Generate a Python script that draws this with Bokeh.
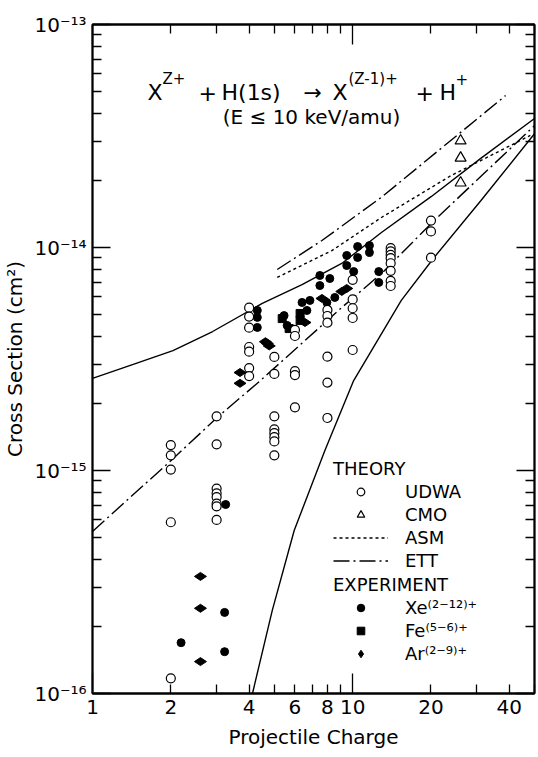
import math
from bokeh.plotting import figure
from bokeh.models import (LogAxis, FixedTicker, Legend, LegendItem, Label,
                          CustomJSTickFormatter, PrintfTickFormatter)
from bokeh.embed import file_html
from bokeh.resources import INLINE

FONT = "DejaVu Sans"

# ---------------- data ----------------
# Theory: UDWA (open circles)
udwa_z = [2, 2, 2, 2, 2,
          3, 3, 3, 3, 3, 3, 3, 3,
          4, 4, 4, 4, 4, 4, 4,
          5, 5, 5, 5, 5, 5, 5, 5,
          6, 6, 6, 6, 6,
          8, 8, 8, 8, 8, 8,
          10, 10, 10, 10, 10,
          14, 14, 14, 14, 14, 14, 14, 14,
          20, 20, 20]
udwa_sigma = [1.30e-15, 1.17e-15, 1.01e-15, 5.86e-16, 1.17e-16,
              1.75e-15, 1.31e-15, 8.3e-16, 7.9e-16, 7.6e-16, 7.1e-16, 6.9e-16, 6.0e-16,
              5.37e-15, 4.9e-15, 4.37e-15, 3.58e-15, 3.41e-15, 2.88e-15, 2.65e-15,
              3.23e-15, 2.71e-15, 1.75e-15, 1.53e-15, 1.47e-15, 1.41e-15, 1.35e-15, 1.17e-15,
              4.27e-15, 4.01e-15, 2.79e-15, 2.68e-15, 1.92e-15,
              5.25e-15, 4.93e-15, 4.6e-15, 3.24e-15, 2.48e-15, 1.72e-15,
              7.16e-15, 5.85e-15, 5.34e-15, 4.83e-15, 3.47e-15,
              9.93e-15, 9.6e-15, 9.27e-15, 8.96e-15, 8.5e-15, 7.86e-15, 7.08e-15, 6.72e-15,
              1.32e-14, 1.18e-14, 9.0e-15]

# Theory: CMO (open triangles)
cmo_z = [26, 26, 26]
cmo_sigma = [3.01e-14, 2.52e-14, 1.95e-14]

# Theory curves
asm_z = [5.13, 8.32, 12.90, 23.87, 48.2]
asm_sigma = [7.34e-15, 9.69e-15, 1.363e-14, 2.10e-14, 3.18e-14]

ett_upper_z = [5.13, 7.62, 12.90, 21.86, 38.7]
ett_upper_sigma = [7.97e-15, 1.075e-14, 1.68e-14, 2.78e-14, 4.80e-14]

ett_lower_z = [1.0, 2.04, 3.05, 4.42, 9.08, 12.90, 20.56, 50.0]
ett_lower_sigma = [5.33e-16, 1.13e-15, 1.75e-15, 2.53e-15, 5.38e-15, 7.64e-15, 1.32e-14, 3.52e-14]

solid_upper_z = [1.0, 1.434, 2.038, 2.896, 4.494, 6.388, 9.08, 12.90, 20.02, 31.08, 50.0]
solid_upper_sigma = [2.59e-15, 2.99e-15, 3.45e-15, 4.20e-15, 5.61e-15, 6.82e-15, 8.48e-15,
                     1.168e-14, 1.69e-14, 2.51e-14, 3.79e-14]

solid_lower_z = [4.12, 4.91, 5.96, 7.82, 10.09, 15.38, 20.56, 31.08, 50.0]
solid_lower_sigma = [1.0e-16, 2.36e-16, 5.38e-16, 1.23e-15, 2.53e-15, 5.79e-15, 9.02e-15,
                     1.62e-14, 3.24e-14]

# Experiment
xe_z = [2.19, 3.22, 3.22, 3.25, 4.30, 4.30, 4.30, 5.45, 5.60, 6.39, 6.67, 6.85, 7.48, 7.48,
        8.17, 8.54, 7.96, 9.49, 9.49, 10.45, 10.45, 10.09, 11.6, 11.6, 12.6, 12.6]
xe_sigma = [1.69e-16, 2.31e-16, 1.54e-16, 7.04e-16, 5.22e-15, 4.86e-15, 4.38e-15, 4.95e-15,
            4.47e-15, 5.67e-15, 5.22e-15, 5.79e-15, 7.49e-15, 6.75e-15, 7.26e-15, 5.97e-15,
            5.67e-15, 9.21e-15, 8.3e-15, 1.01e-14, 9.02e-15, 7.8e-15, 1.02e-14, 9.5e-15,
            7.8e-15, 6.97e-15]

fe_z = [5.36, 5.70, 6.28, 6.28]
fe_sigma = [4.80e-15, 4.33e-15, 5.06e-15, 4.71e-15]

ar_z = [2.60, 2.60, 2.60, 3.69, 3.69, 4.62, 4.70, 4.78, 6.56, 7.62, 9.08, 9.49]
ar_sigma = [3.35e-16, 2.41e-16, 1.39e-16, 2.75e-15, 2.46e-15, 3.78e-15, 3.71e-15, 3.62e-15,
            4.61e-15, 5.91e-15, 6.35e-15, 6.55e-15]

# ticks
x_major = [1, 10]
x_minor = [2, 3, 4, 5, 6, 7, 8, 9, 20, 30, 40, 50]
x_labels = [1, 2, 4, 6, 8, 10, 20, 40]
y_major = [1e-16, 1e-15, 1e-14, 1e-13]
y_minor = [m * 10.0 ** e for e in (-16, -15, -14) for m in range(2, 10)]

# ---------------- figure ----------------
L, R, T, B = 89, 4, 24, 64
W, H = 538, 757
p = figure(width=W, height=H, x_axis_type="log", y_axis_type="log",
           x_range=(1, 50), y_range=(1e-16, 1e-13),
           output_backend="svg", toolbar_location=None,
           min_border_left=L, min_border_right=R, min_border_top=T, min_border_bottom=B)
p.xgrid.grid_line_color = None
p.ygrid.grid_line_color = None
p.outline_line_color = "black"
p.outline_line_width = 1.8
p.background_fill_color = "white"
p.border_fill_color = "white"

BLANK = CustomJSTickFormatter(code="return '';")

def style_ticks(ax, maj_in):
    ax.major_tick_in = maj_in
    ax.major_tick_out = 0
    ax.minor_tick_in = 9
    ax.minor_tick_out = 0
    ax.major_tick_line_width = 1.3
    ax.minor_tick_line_width = 1.3
    ax.axis_line_width = 1.8

def hide_labels(ax):
    ax.formatter = BLANK
    ax.major_label_text_font_size = "1px"
    ax.major_label_standoff = 0

xax = p.xaxis[0]
xax.ticker = FixedTicker(ticks=x_major, minor_ticks=x_minor)
style_ticks(xax, 20)
hide_labels(xax)

xlab = LogAxis(ticker=FixedTicker(ticks=x_labels, minor_ticks=[]),
               formatter=PrintfTickFormatter(format="%d"))
xlab.major_tick_in = 0
xlab.major_tick_out = 0
xlab.minor_tick_in = 0
xlab.minor_tick_out = 0
xlab.axis_line_alpha = 0
xlab.major_label_standoff = 6
xlab.major_label_text_font = FONT
xlab.major_label_text_font_size = "20px"
xlab.major_label_text_color = "black"
xlab.axis_label = "Projectile Charge"
xlab.axis_label_text_font = FONT
xlab.axis_label_text_font_size = "20px"
xlab.axis_label_text_font_style = "normal"
xlab.axis_label_text_color = "black"
xlab.axis_label_standoff = 8
p.add_layout(xlab, "below")

yax = p.yaxis[0]
yax.ticker = FixedTicker(ticks=y_major, minor_ticks=y_minor)
style_ticks(yax, 18)
yax.formatter = CustomJSTickFormatter(code="""
const sup = {'-':'\\u207b','0':'\\u2070','1':'\\u00b9','2':'\\u00b2','3':'\\u00b3','4':'\\u2074',
             '5':'\\u2075','6':'\\u2076','7':'\\u2077','8':'\\u2078','9':'\\u2079'};
const e = String(Math.round(Math.log10(tick)));
let s = '';
for (const c of e) { s += sup[c]; }
return '10' + s;
""")
yax.major_label_standoff = 6
yax.major_label_text_font = FONT
yax.major_label_text_font_size = "20px"
yax.major_label_text_color = "black"
yax.axis_label = "Cross Section (cm\u00b2)"
yax.axis_label_text_font = FONT
yax.axis_label_text_font_size = "20px"
yax.axis_label_text_font_style = "normal"
yax.axis_label_text_color = "black"
yax.axis_label_standoff = 4

top = LogAxis(ticker=FixedTicker(ticks=x_major, minor_ticks=x_minor))
style_ticks(top, 20)
hide_labels(top)
p.add_layout(top, "above")

right = LogAxis(ticker=FixedTicker(ticks=y_major, minor_ticks=y_minor))
style_ticks(right, 18)
hide_labels(right)
p.add_layout(right, "right")

# ---------------- curves ----------------
LW = 1.4
r_sol1 = p.line(solid_upper_z, solid_upper_sigma, line_color="black", line_width=LW)
r_sol2 = p.line(solid_lower_z, solid_lower_sigma, line_color="black", line_width=LW)
r_asm = p.line(asm_z, asm_sigma, line_color="black", line_width=LW, line_dash="3 3")
r_ett1 = p.line(ett_upper_z, ett_upper_sigma, line_color="black", line_width=LW,
                line_dash="16 4 2 4")
r_ett2 = p.line(ett_lower_z, ett_lower_sigma, line_color="black", line_width=LW,
                line_dash="16 4 2 4")

# ---------------- markers ----------------
r_xe = p.scatter(xe_z, xe_sigma, marker="circle", size=8, fill_color="black", line_color="black")
r_fe = p.scatter(fe_z, fe_sigma, marker="square", size=8, fill_color="black", line_color="black")
r_ar = p.scatter(ar_z, ar_sigma, marker="diamond", size=12, angle=math.pi / 2,
                 fill_color="black", line_color="black")
r_udwa = p.scatter(udwa_z, udwa_sigma, marker="circle", size=9, fill_color="white",
                   line_color="black", line_width=1.2)
r_cmo = p.scatter(cmo_z, cmo_sigma, marker="triangle", size=11, fill_color="white",
                  line_color="black", line_width=1.2)

# ---------------- legends ----------------
def make_legend(title, items, loc, spacing):
    lg = Legend(items=items, location=loc, title=title,
                title_text_font=FONT, title_text_font_size="18px",
                title_text_font_style="normal", title_text_color="black", title_standoff=2,
                label_text_font=FONT, label_text_font_size="18px", label_text_color="black",
                glyph_width=55, glyph_height=19, label_height=19, label_standoff=17,
                spacing=spacing, padding=0, margin=0,
                background_fill_alpha=0, border_line_alpha=0)
    return lg

leg1 = make_legend("THEORY", [LegendItem(label="UDWA", renderers=[r_udwa]),
                              LegendItem(label="CMO", renderers=[r_cmo]),
                              LegendItem(label="ASM", renderers=[r_asm]),
                              LegendItem(label="ETT", renderers=[r_ett1])],
                   (330 - L, 693 - 571), 2)
leg2 = make_legend("EXPERIMENT", [LegendItem(label="Xe\u207d\u00b2\u207b\u00b9\u00b2\u207e\u207a", renderers=[r_xe]),
                                  LegendItem(label="Fe\u207d\u2075\u207b\u2076\u207e\u207a", renderers=[r_fe]),
                                  LegendItem(label="Ar\u207d\u00b2\u207b\u2079\u207e\u207a", renderers=[r_ar])],
                   (330 - L, 693 - 664), 2)
p.add_layout(leg1)
p.add_layout(leg2)

# ---------------- text annotations (inside the frame) ----------------
def pos(x, y):
    # page pixels from the top-left corner, converted to frame-relative screen units
    return dict(x=x - L, y=(H - B) - y, x_units="screen", y_units="screen")

def lab(text, x, y, size, align="left", baseline="alphabetic"):
    p.add_layout(Label(text=text, text_font=FONT, text_font_size=size, text_color="black",
                       text_align=align, text_baseline=baseline, **pos(x, y)))

# reaction title
lab("X", 144, 92, "22px")
lab("Z+", 159, 78, "15px")
lab("+", 195, 92, "22px")
lab("H(1s)", 218, 92, "22px")
lab("\u2192", 300, 92, "22px")
lab("X", 329, 92, "22px")
lab("(Z-1)+", 345, 78, "15px")
lab("+", 412, 92, "22px")
lab("H", 436, 92, "22px")
lab("+", 452, 78, "15px")
lab("(E \u2264 10 keV/amu)", 308, 116, "20px", align="center")

open("out.html", "w").write(file_html(p, INLINE))
